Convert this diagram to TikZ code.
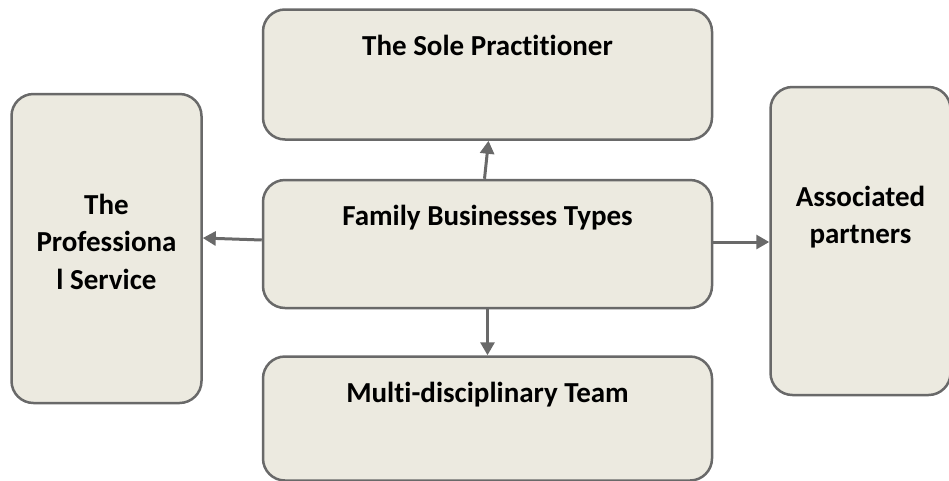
\documentclass[tikz,border=0pt]{standalone}
\usepackage{fontspec}
\setmainfont{Carlito}[Ligatures=NoCommon]
\usetikzlibrary{positioning,arrows.meta}
\definecolor{boxfill}{RGB}{236,234,224}
\definecolor{boxline}{RGB}{105,105,105}
\begin{document}
\begin{tikzpicture}[x=1pt, y=-1pt, thick,
  main/.style = {draw=boxline, fill=boxfill, line width=2.5pt, rounded corners=22pt, inner sep=0pt, align=center, font=\fontsize{29}{37.5}\selectfont\bfseries},
  link/.style = {draw=boxline, line width=3pt, -{Triangle[length=13pt,width=14pt]}}]
\useasboundingbox (0,0) rectangle (949,480);
\node[main, minimum width=449pt, text height=45pt, text depth=83pt] (family) at (487.5,244) {Family Businesses Types};
\node[main, minimum width=449pt, text height=46pt, text depth=84pt] (sole) [above=38pt of family] {The Sole Practitioner};
\node[main, minimum width=449pt, text height=46pt, text depth=78pt] (multi) [below=46pt of family] {Multi-disciplinary Team};
\node[main, minimum width=190pt, text height=195pt, text depth=114pt] (prof) [left=59pt of family, yshift=-4.5pt] {The\\Professiona\\l Service};
\node[main, minimum width=180pt, text height=156.5pt, text depth=151.5pt] (assoc) [right=56pt of family, yshift=3pt] {Associated\\partners};
\draw[link] ([xshift=-3pt]family.north) -- ([xshift=1pt]sole.south);
\draw[link] ([yshift=4pt]family.west) -- ([yshift=10.5pt]prof.east);
\draw[link] ([yshift=2pt]family.east) -- ([yshift=-1pt]assoc.west);
\draw[link] (family.south) -- (multi.north);
\end{tikzpicture}
\end{document}
